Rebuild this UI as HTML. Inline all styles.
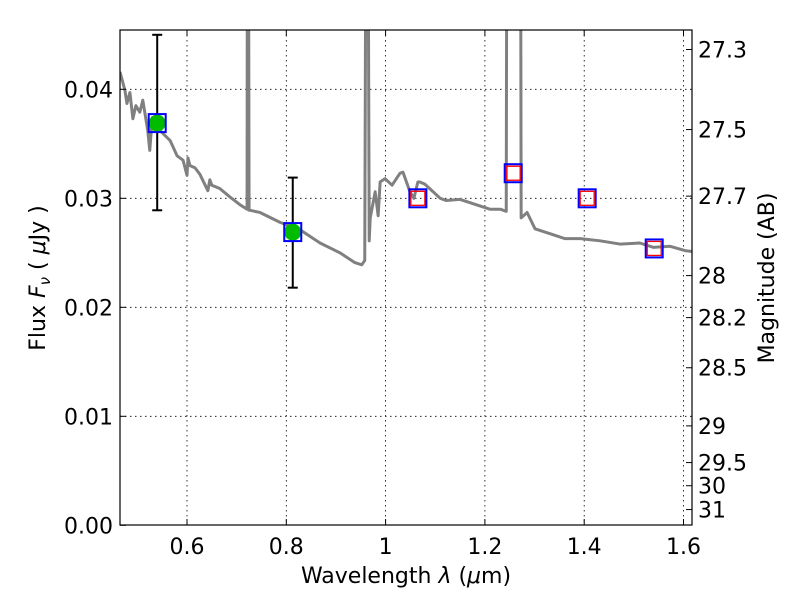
<!DOCTYPE html>
<html><head><meta charset="utf-8"><style>
body{margin:0;background:#fff;}
svg text{font-family:"DejaVu Sans","Liberation Sans",sans-serif;}
</style></head><body>
<svg id="chart" width="800" height="600" viewBox="0 0 800 600" xmlns="http://www.w3.org/2000/svg">
<defs><clipPath id="clip"><rect x="120" y="30" width="572" height="495"/></clipPath></defs>
<rect x="0" y="0" width="800" height="600" fill="#fff"/>
<g id="grid"></g>
<g id="spec" clip-path="url(#clip)"></g>
<g id="marks"></g>
<rect x="120" y="30" width="572" height="495" fill="none" stroke="#000" stroke-width="1.2"/>
<g id="axes"></g>
<text x="406" y="583" font-size="22" text-anchor="middle">Wavelength  <tspan font-style="italic">λ</tspan> (<tspan font-style="italic">μ</tspan>m)</text>
<text transform="translate(45,278) rotate(-90)" font-size="22" text-anchor="middle">Flux  <tspan font-style="italic">F</tspan><tspan font-style="italic" font-size="15" dy="5">ν</tspan><tspan dy="-5">  (  </tspan><tspan font-style="italic">μ</tspan>Jy )</text>
<text transform="translate(774,278) rotate(-90)" font-size="22" text-anchor="middle">Magnitude (AB)</text>
</svg>
<script>
const xTicks=[0.6,0.8,1.0,1.2,1.4,1.6];
const xTickLabels=["0.6","0.8","1","1.2","1.4","1.6"];
const yTicks=[0,0.01,0.02,0.03,0.04];
const yTickLabels=["0.00","0.01","0.02","0.03","0.04"];
const magTicks=[27.3,27.5,27.7,28,28.2,28.5,29,29.5,30,31];
const magTickLabels=["27.3","27.5","27.7","28","28.2","28.5","29","29.5","30","31"];
const specLam=[0.465,0.475,0.479,0.485,0.491,0.497,0.505,0.511,0.521,0.525,0.530,0.532,0.546,0.566,0.580,0.592,0.600,0.602,0.606,0.616,0.626,0.642,0.646,0.650,0.666,0.687,0.707,0.721,0.722,0.723,0.725,0.727,0.747,0.787,0.828,0.868,0.908,0.938,0.952,0.958,0.962,0.963,0.967,0.969,0.979,0.985,0.989,0.999,1.013,1.029,1.035,1.049,1.057,1.065,1.069,1.079,1.110,1.122,1.150,1.190,1.210,1.231,1.243,1.245,1.271,1.273,1.285,1.301,1.321,1.341,1.361,1.392,1.432,1.472,1.512,1.539,1.573,1.603,1.62];
const specFlux=[0.0416,0.0399,0.0387,0.0397,0.0373,0.0385,0.0379,0.0390,0.0362,0.0344,0.0374,0.0370,0.0362,0.0353,0.0339,0.0335,0.0321,0.0337,0.0330,0.0328,0.0322,0.0307,0.0317,0.0312,0.0309,0.0301,0.0294,0.0290,0.08,0.08,0.0289,0.0289,0.0287,0.0278,0.0271,0.0259,0.0250,0.0241,0.0239,0.0243,0.08,0.08,0.0261,0.0282,0.0306,0.0284,0.0315,0.0318,0.0312,0.0323,0.0324,0.0306,0.0300,0.0315,0.0315,0.0313,0.0300,0.0298,0.0299,0.0293,0.0290,0.0290,0.0288,0.08,0.08,0.0282,0.0287,0.0272,0.0269,0.0266,0.0263,0.0263,0.0261,0.0258,0.0259,0.0255,0.0256,0.0252,0.0251];
const detLam=[0.540,0.813];
const detFlux=[0.0369,0.0269];
const detErrLo=[0.0289,0.0218];
const detErrHi=[0.0450,0.0319];
const ulLam=[1.065,1.257,1.406,1.541];
const ulFlux=[0.0300,0.0323,0.0300,0.0254];
const NS="http://www.w3.org/2000/svg";
const X=l=>187+(l-0.6)*496.5;
const Y=f=>525.3-f*10900;
const magToFlux=m=>Math.pow(10,(23.9-m)/2.5);
function mk(p,t,a){const e=document.createElementNS(NS,t);for(const k in a)e.setAttribute(k,a[k]);p.appendChild(e);return e;}
const grid=document.getElementById('grid'),axes=document.getElementById('axes');
xTicks.forEach((v,i)=>{const x=X(v);
 const g=mk(grid,'line',{x1:x,x2:x,y1:30,y2:525,stroke:'#000','stroke-dasharray':'1.5,3.5','stroke-width':0.8});
 
 
 mk(axes,'line',{x1:x,x2:x,y1:525,y2:519,stroke:'#000'});
 mk(axes,'line',{x1:x,x2:x,y1:30,y2:36,stroke:'#000'});
 const t=mk(axes,'text',{x:x,y:554,'font-size':22,'text-anchor':'middle'});t.textContent=xTickLabels[i];
 
 
});
yTicks.forEach((v,i)=>{const y=Y(v);
 if(v>0){const g=mk(grid,'line',{x1:120,x2:692,y1:y,y2:y,stroke:'#000','stroke-dasharray':'1.5,3.5','stroke-width':0.8});
 
 }
 mk(axes,'line',{x1:120,x2:126,y1:y,y2:y,stroke:'#000'});
 const t=mk(axes,'text',{x:113,y:y+8,'font-size':22,'text-anchor':'end'});t.textContent=yTickLabels[i];
 
 
});
magTicks.forEach((m,i)=>{const y=Y(magToFlux(m));
 mk(axes,'line',{x1:692,x2:686,y1:y,y2:y,stroke:'#000'});
 const t=mk(axes,'text',{x:698,y:y+8,'font-size':22});t.textContent=magTickLabels[i];
 
 
});
const spec=document.getElementById('spec');
const pl=mk(spec,'polyline',{points:specLam.map((l,i)=>X(l)+','+Y(specFlux[i])).join(' '),fill:'none',stroke:'#808080','stroke-width':3,'stroke-linejoin':'round'});


const marks=document.getElementById('marks');
detLam.forEach((l,i)=>{const x=X(l);
 const e=mk(marks,'line',{x1:x,x2:x,y1:Y(detErrLo[i]),y2:Y(detErrHi[i]),stroke:'#000','stroke-width':2});
 
 
 [detErrLo[i],detErrHi[i]].forEach(f=>mk(marks,'line',{x1:x-5,x2:x+5,y1:Y(f),y2:Y(f),stroke:'#000','stroke-width':2}));
 const c=mk(marks,'circle',{cx:x,cy:Y(detFlux[i]),r:8.5,fill:'#00bb00'});
 
 
 const s=mk(marks,'rect',{x:x-8.5,y:Y(detFlux[i])-9,width:17,height:18,fill:'none',stroke:'#0000ff','stroke-width':2});
 
 
});
ulLam.forEach((l,i)=>{const x=X(l),y=Y(ulFlux[i]);
 const s=mk(marks,'rect',{x:x-8.5,y:y-9,width:17,height:18,fill:'none',stroke:'#0000ff','stroke-width':2});
 
 
 const r=mk(marks,'rect',{x:x-7,y:y-7,width:14,height:14,fill:'none',stroke:'#ff0000','stroke-width':1.3});
 
 
});
</script>
</body></html>
